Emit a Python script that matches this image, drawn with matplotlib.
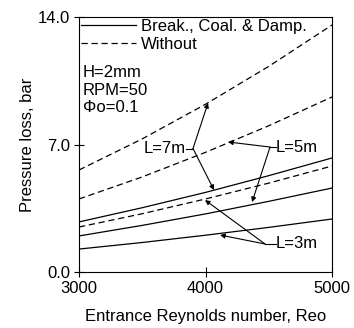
import matplotlib
matplotlib.use("Agg")
from matplotlib import pyplot as plt

plt.rcParams['font.family'] = ['Liberation Sans', 'DejaVu Sans']

# Reynolds number sample points
reo = [3000, 3500, 4000, 4500, 5000]

# with breakup, coalescence & damping (solid)
with_7m = [2.75, 3.53, 4.37, 5.29, 6.26]
with_5m = [1.98, 2.56, 3.19, 3.88, 4.61]
with_3m = [1.26, 1.62, 2.02, 2.45, 2.91]

# without (dashed)
without_7m = [5.60, 7.31, 9.21, 11.29, 13.56]
without_5m = [4.01, 5.22, 6.57, 8.03, 9.61]
without_3m = [2.47, 3.20, 4.01, 4.88, 5.82]

xticks = [3000, 4000, 5000]
yticks = [0.0, 7.0, 14.0]

fs = 12

fig = plt.figure(figsize=(3.54, 3.28), dpi=100)
ax = fig.add_axes([0.2232, 0.1707, 0.7147, 0.7775])

lw = 0.9
dash = (0, (5, 3))
ax.plot(reo, with_7m, color='black', lw=lw, label='Break., Coal. & Damp.')
ax.plot(reo, without_7m, color='black', lw=lw, linestyle=dash, label='Without')
ax.plot(reo, with_5m, color='black', lw=lw)
ax.plot(reo, with_3m, color='black', lw=lw)
ax.plot(reo, without_5m, color='black', lw=lw, linestyle=dash)
ax.plot(reo, without_3m, color='black', lw=lw, linestyle=dash)

ax.set_xlim(3000, 5000)
ax.set_ylim(0, 14)
ax.set_xticks(xticks)
ax.set_xticklabels([str(t) for t in xticks])
ax.set_yticks(yticks)
ax.set_yticklabels(['%.1f' % t for t in yticks])
ax.tick_params(direction='inout', length=7, width=0.8, labelsize=fs, pad=3)
for s in ax.spines.values():
    s.set_linewidth(0.8)

ax.set_xlabel('Entrance Reynolds number, Reo', fontsize=fs, labelpad=9)
ax.set_ylabel('Pressure loss, bar', fontsize=fs, labelpad=2)

ax.legend(loc='upper left', frameon=False, fontsize=fs, handlelength=3.3,
          handletextpad=0.3, borderaxespad=0.0, borderpad=0.1, labelspacing=0.2)

ax.text(3030, 11.35, 'H=2mm\nRPM=50\n\u03a6o=0.1', fontsize=fs, va='top', ha='left',
        linespacing=1.2)

arrow = dict(arrowstyle='-|>', color='black', lw=0.8, mutation_scale=7, shrinkA=0, shrinkB=0)


def label(txt, tx, branch, tips, right):
    if right:
        ax.text(tx, branch[1], txt, fontsize=fs, ha='right', va='center')
    else:
        ax.text(tx, branch[1], txt, fontsize=fs, ha='left', va='center')
    ax.plot([tx, branch[0]], [branch[1], branch[1]], color='black', lw=0.8)
    for tip in tips:
        ax.annotate('', xy=tip, xytext=branch, arrowprops=arrow)


label('L=7m', 3845, (3901, 6.78), [(4020, 9.28), (4067, 4.50)], True)
label('L=5m', 4555, (4510, 6.86), [(4178, 7.14), (4368, 3.84)], False)
label('L=3m', 4555, (4470, 1.54), [(3996, 3.95), (4115, 2.03)], False)

fig.savefig('out.png', dpi=100)
